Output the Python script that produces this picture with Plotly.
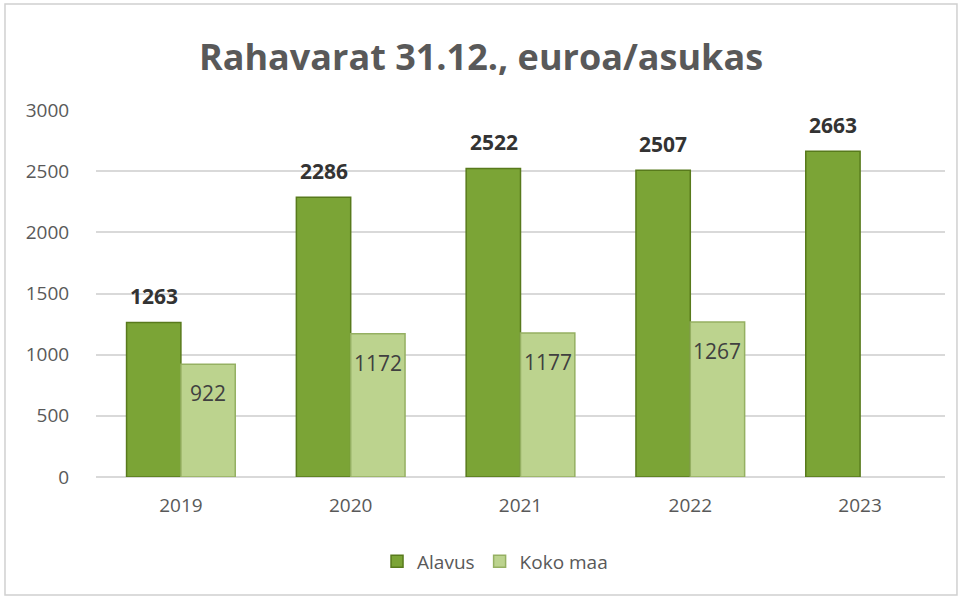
import plotly.graph_objects as go

years = ["2019", "2020", "2021", "2022", "2023"]
alavus = [1263, 2286, 2522, 2507, 2663]
koko_maa = [922, 1172, 1177, 1267, None]

FONT = "Open Sans"

fig = go.Figure()

fig.add_trace(go.Bar(
    x=years,
    y=alavus,
    name="Alavus",
    marker=dict(color="#7ba436", line=dict(color="#587a1c", width=1.5)),
))

fig.add_trace(go.Bar(
    x=years,
    y=koko_maa,
    name="Koko maa",
    marker=dict(color="#bcd38e", line=dict(color="#95b062", width=1.5)),
))

# Data labels: Alavus bold above the bar, Koko maa inside below the top
# (on a category axis annotations take the category index)
for i, val in enumerate(alavus):
    fig.add_annotation(
        x=i, y=val, text=str(val), showarrow=False,
        xshift=-27, yshift=26,
        font=dict(family=FONT, size=21, color="#333333", weight="bold"),
    )
for i, val in enumerate(koko_maa):
    if val is None:
        continue
    fig.add_annotation(
        x=i, y=val, text=str(val), showarrow=False,
        xshift=27, yshift=-29,
        font=dict(family=FONT, size=21, color="#404040"),
    )

fig.update_layout(
    width=962,
    height=599,
    paper_bgcolor="white",
    plot_bgcolor="white",
    barmode="group",
    bargap=0.36,
    bargroupgap=0,
    margin=dict(l=96, r=17, t=110, b=122),
    title=dict(
        text="Rahavarat 31.12., euroa/asukas",
        x=0.5, xanchor="center",
        y=0.905, yanchor="middle",
        font=dict(family=FONT, size=36, color="#595959", weight="bold"),
    ),
    legend=dict(
        orientation="h",
        x=0.47, xanchor="center",
        y=-0.23, yanchor="middle",
        font=dict(family=FONT, size=19, color="#595959"),
        itemwidth=30,
    ),
)

fig.update_yaxes(
    range=[0, 3000],
    tickvals=[0, 500, 1000, 1500, 2000, 2500, 3000],
    showgrid=True,
    gridcolor="#d9d9d9",
    gridwidth=1.5,
    zeroline=True,
    zerolinecolor="#d9d9d9",
    zerolinewidth=1.5,
    ticks="outside",
    ticklen=22,
    tickcolor="rgba(0,0,0,0)",
    tickfont=dict(family=FONT, size=19, color="#595959"),
)

fig.update_xaxes(
    type="category",
    range=[-0.5, len(years) - 0.5],
    showline=False,
    ticks="outside",
    ticklen=11,
    tickcolor="rgba(0,0,0,0)",
    tickfont=dict(family=FONT, size=19, color="#595959"),
)

# Outer chart border
fig.add_shape(
    type="rect",
    xref="paper", yref="paper",
    x0=-0.1072, x1=1.0141, y0=-0.3215, y1=1.2888,
    line=dict(color="#d0d0d0", width=1.5),
    layer="below",
)

fig.write_html(
    "out.html",
    config={"displayModeBar": False},
    post_script="document.body.style.margin='0';",
)
